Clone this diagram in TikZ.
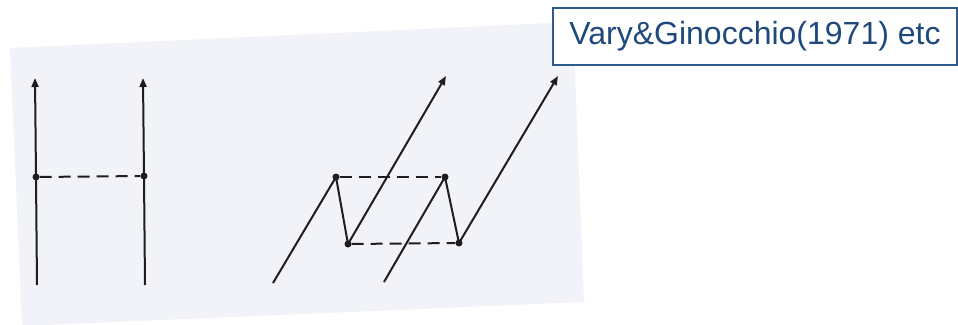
\documentclass[tikz,border=0pt]{standalone}
\usepackage{fontspec}
\setmainfont{Liberation Sans}
\usetikzlibrary{arrows.meta}
\definecolor{scanbg}{RGB}{241,243,248}
\definecolor{ink}{RGB}{30,30,30}
\definecolor{boxblue}{RGB}{47,90,140}
\definecolor{txtblue}{RGB}{31,73,125}
\begin{document}
\begin{tikzpicture}[x=1pt,y=-1pt,
  dotnode/.style={circle,fill=ink,inner sep=0pt,minimum size=7pt},
  solidln/.style={draw=ink,line width=2pt},
  arrowln/.style={solidln,-{Triangle[length=9pt,width=7pt]}},
  dashln/.style={draw=ink,line width=2pt,dash pattern=on 12pt off 7pt},
  labelbox/.style={draw=boxblue,line width=1.6pt,fill=white,minimum width=404pt,minimum height=57pt,inner sep=0pt,text=txtblue,font=\fontsize{32}{38}\selectfont}]
\useasboundingbox (0,0) rectangle (958,324);
% scanned page background
\fill[scanbg] (10,48) -- (573,22) -- (584,302) -- (22,326) -- cycle;
% left diagram
\coordinate (l1b) at (37,285);
\coordinate (l1t) at (35,78);
\coordinate (l2b) at (145,285);
\coordinate (l2t) at (143,78);
\node[dotnode] (l1) at (36,177) {};
\node[dotnode] (l2) at (144,176) {};
\draw[solidln] (l1b) -- (l1.center);
\draw[arrowln] (l1.center) -- (l1t);
\draw[solidln] (l2b) -- (l2.center);
\draw[arrowln] (l2.center) -- (l2t);
\draw[dashln] (l1) -- (l2);
% right diagram
\coordinate (s1) at (273,283);
\coordinate (s2) at (384,282);
\coordinate (e1) at (446,76);
\coordinate (e2) at (558,76);
\node[dotnode] (A) at (336,177) {};
\node[dotnode] (B) at (348,244) {};
\node[dotnode] (C) at (445,177) {};
\node[dotnode] (D) at (459,243) {};
\draw[solidln] (s1) -- (A.center) -- (B.center);
\draw[arrowln] (B.center) -- (e1);
\draw[solidln] (s2) -- (C.center) -- (D.center);
\draw[arrowln] (D.center) -- (e2);
\draw[dashln] (A) -- (C);
\draw[dashln] (B) -- (D);
% label box
\node[labelbox] (lbl) at (755,36.5) {Vary\&Ginocchio(1971) etc};
\end{tikzpicture}
\end{document}
